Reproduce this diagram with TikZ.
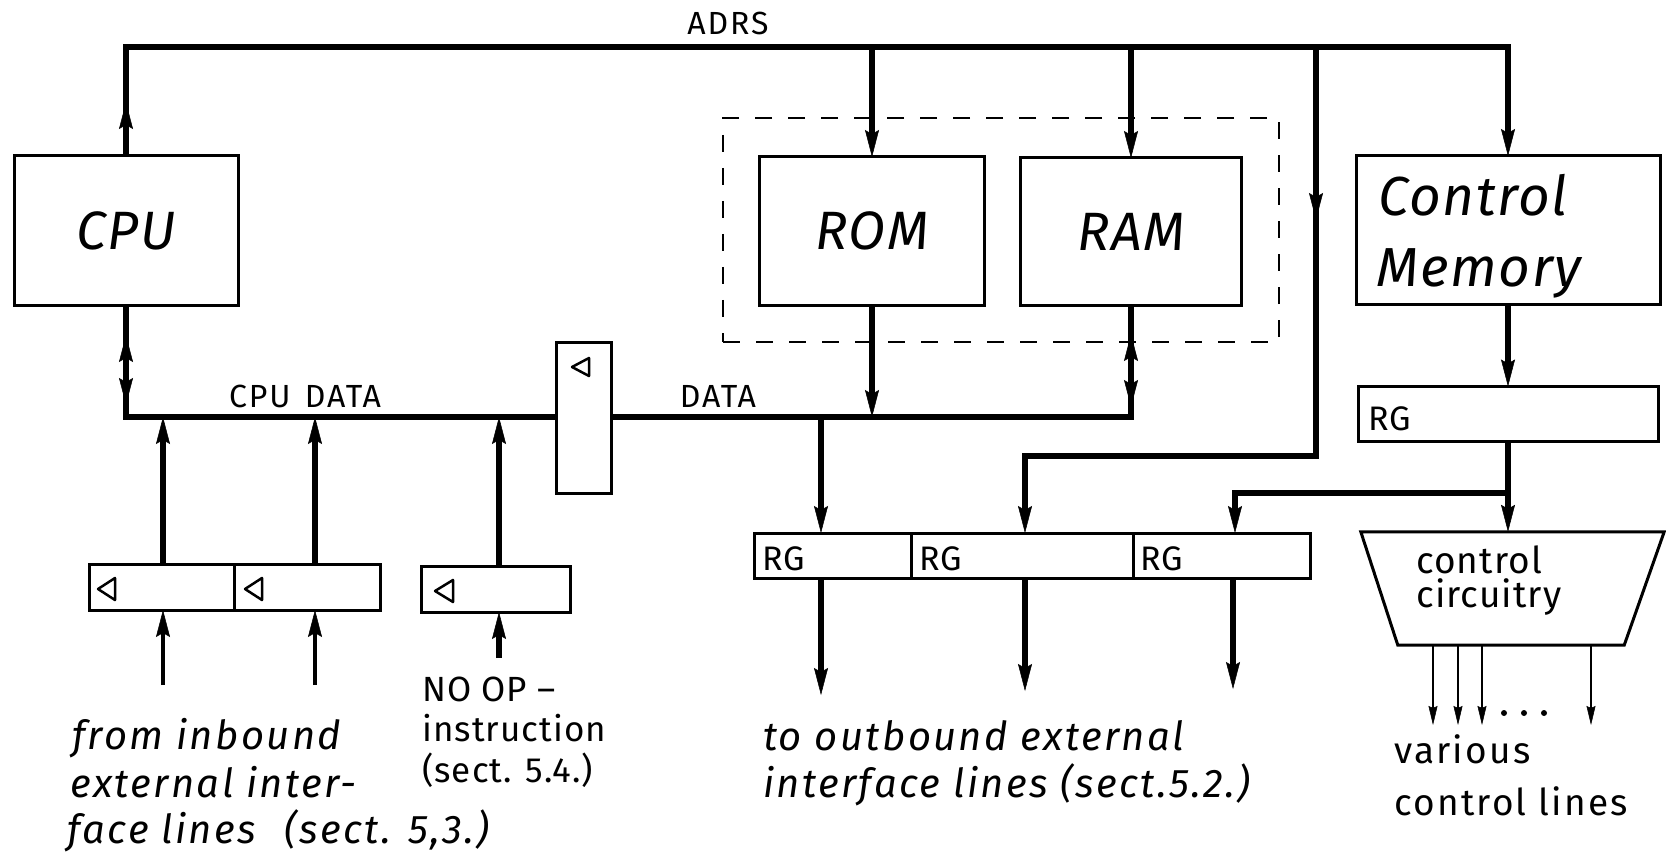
\documentclass[tikz,border=0pt]{standalone}
\usepackage{fontspec}
\setmainfont{Fira Sans}
\newfontfamily\lf{Fira Sans}[LetterSpace=3]
\newfontfamily\lfw{Fira Sans}[LetterSpace=6]
\usetikzlibrary{arrows.meta,decorations.markings,calc}
\begin{document}
\begin{tikzpicture}[x=1pt,y=-1pt,
  bus/.style={line width=5.5pt},
  thinl/.style={line width=2.2pt},
  blk/.style={draw, line width=3pt, inner sep=0pt, outer sep=0pt},
  tipb/.tip={Stealth[length=27pt,width=14pt,inset=4pt,line width=0.5pt]},
  tips/.tip={Stealth[length=19pt,width=9pt,inset=2pt,line width=0.5pt]},
  am/.style={postaction={decorate,decoration={markings,mark=at position #1 with {\arrow{tipb}}}}},
  amr/.style={postaction={decorate,decoration={markings,mark=at position #1 with {\arrowreversed{tipb}}}}},
  bigit/.style={font=\lf\fontsize{54}{60}\selectfont\itshape},
  cmit/.style={font=\lf\fontsize{55}{60}\selectfont\itshape},
  lab/.style={font=\lfw\fontsize{32}{38}\selectfont, inner sep=0pt},
  rgt/.style={font=\lf\fontsize{34}{38}\selectfont, inner sep=0pt, anchor=base west},
  cct/.style={font=\lf\fontsize{37}{42}\selectfont, inner sep=0pt, anchor=base west},
  itl/.style={font=\lfw\fontsize{40}{46}\selectfont\itshape, inner sep=0pt, anchor=base west},
  upl/.style={font=\lf\fontsize{35}{40}\selectfont, inner sep=0pt, anchor=base west},
  tri/.style={line width=2.5pt, line join=round}
]
\useasboundingbox (0,0) rectangle (1666,853);

% ---------- main blocks ----------
\node[blk, minimum width=224pt, minimum height=149pt, bigit] (cpu) at (126,230.5) {CPU};
\node[draw, dashed, dash pattern=on 17pt off 16pt, line width=2.5pt, inner sep=0pt,
      minimum width=556pt, minimum height=224pt] (mem) at (1001,230) {};
\node[blk, minimum width=225pt, minimum height=148pt, bigit] (rom) at (872,231) {ROM};
\node[blk, minimum width=221pt, minimum height=147pt, bigit] (ram) at (1131,231.5) {RAM};
\node[blk, minimum width=304pt, minimum height=148pt] (cm) at (1508,230) {};
\node[cmit, anchor=base west, inner sep=0pt] (cmt1) at (1378,216) {Control};
\node[cmit, anchor=base west, inner sep=0pt] (cmt2) at (1376,287) {Memory};

% buffer between CPU DATA and DATA
\node[blk, minimum width=55pt, minimum height=151pt] (buf) at (583.5,417.5) {};
\draw[tri] (589,358) -- (572,367) -- (589,376) -- cycle;

% registers
\node[blk, minimum width=300pt, minimum height=55pt] (rgc) at (1508,414) {};
\node[rgt] (rgct) at (1368,430) {RG};
\node[blk, minimum width=157pt, minimum height=45pt, anchor=north west] (rg1) at (754,533) {};
\node[blk, minimum width=222pt, minimum height=45pt, anchor=north west] (rg2) at (911,533) {};
\node[blk, minimum width=177pt, minimum height=45pt, anchor=north west] (rg3) at (1133,533) {};
\node[rgt] (rg1t) at (762,570) {RG};
\node[rgt] (rg2t) at (919,570) {RG};
\node[rgt] (rg3t) at (1140,570) {RG};

\node[blk, minimum width=145pt, minimum height=46pt, anchor=north west] (in1) at (89,564) {};
\node[blk, minimum width=146pt, minimum height=46pt, anchor=north west] (in2) at (234,564) {};
\node[blk, minimum width=149pt, minimum height=46pt, anchor=north west] (nop) at (421,566) {};
\draw[tri] (115,578) -- (98,589) -- (115,600) -- cycle;
\draw[tri] (262,578) -- (245,589) -- (262,600) -- cycle;
\draw[tri] (453,580) -- (435,591) -- (453,602) -- cycle;

% control circuitry (trapezoid)
\node[inner sep=0pt, minimum width=303pt, minimum height=113pt] (cc) at (1512.5,588.5) {};
\draw[line width=3pt, line join=miter] (cc.north west) -- (cc.north east)
   -- ($(cc.south east)+(-40,0)$) -- ($(cc.south west)+(37,0)$) -- cycle;
\node[cct] (cct1) at (1416,573) {control};
\node[cct] (cct2) at (1416,607) {circuitry};

% ---------- coordinates ----------
\coordinate (adrs) at (0,47);
\coordinate (bus) at (0,417);
\coordinate (br) at (1316,47);
\coordinate (brc) at (1316,456);
\coordinate (x2) at (1025,0);
\coordinate (x3) at (1235,0);
\coordinate (d1) at (821,417);
\coordinate (j) at (1508,493);
\coordinate (xi1) at (163,0);
\coordinate (xi2) at (315,0);
\coordinate (xn) at (499,0);

% ---------- ADRS bus ----------
\draw[bus, line join=miter, am=54pt, -{tipb}] (cpu.north) -- (cpu.north |- adrs) -- (cm.north |- adrs) -- (cm.north);
\draw[bus, -{tipb}] (rom.north |- adrs) -- (rom.north);
\draw[bus, -{tipb}] (ram.north |- adrs) -- (ram.north);
\draw[bus, line join=miter, am=173pt, -{tipb}] (br) -- (brc) -| (x2 |- rg2.north);
\node[lab, anchor=base] (adrst) at (728,35) {ADRS};

% ---------- CPU DATA / DATA ----------
\draw[bus, line join=miter, am=100pt, amr=30pt] (cpu.south) -- (cpu.south |- bus) -- (buf.west |- bus);
\draw[bus, line join=miter, amr=530pt, am=603pt] (buf.east |- bus) -- (ram.south |- bus) -- (ram.south);
\draw[bus, -{tipb}] (rom.south) -- (rom.south |- bus);
\node[lab, anchor=base] (cpudt) at (305,407) {CPU\hspace{0.45em}DATA};
\node[lab, anchor=base] (datat) at (718,407) {DATA};

% inbound lines
\draw[bus, -{tipb}] (xi1 |- in1.north) -- (xi1 |- bus);
\draw[bus, -{tipb}] (xi2 |- in2.north) -- (xi2 |- bus);
\draw[bus, -{tipb}] (xn |- nop.north) -- (xn |- bus);
\coordinate (b1) at (163,685);
\coordinate (b2) at (315,685);
\coordinate (b3) at (499,658);
\draw[line width=4pt, -{tipb}] (b1) -- (b1 |- in1.south);
\draw[line width=4pt, -{tipb}] (b2) -- (b2 |- in2.south);
\draw[line width=6.5pt, -{tipb}] (b3) -- (b3 |- nop.south);

% outbound
\draw[bus, -{tipb}] (d1) -- (d1 |- rg1.north);
\draw[bus, line join=miter, -{tipb}] (j) -| (x3 |- rg3.north);
\draw[bus, -{tipb}] (cm.south) -- (cm.south |- rgc.north);
\draw[bus, -{tipb}] (rgc.south) -- (cc.north -| rgc.south);
\coordinate (o1) at (821,695);
\coordinate (o2) at (1025,691);
\coordinate (o3) at (1233,689);
\draw[bus, -{tipb}] (o1 |- rg1.south) -- (o1);
\draw[bus, -{tipb}] (o2 |- rg2.south) -- (o2);
\draw[line width=6.5pt, -{tipb}] (o3 |- rg3.south) -- (o3);

% control lines
\coordinate (c1) at (1433,725);
\coordinate (c2) at (1458,725);
\coordinate (c3) at (1482,725);
\coordinate (c4) at (1591,725);
\foreach \c in {c1,c2,c3,c4}
  \draw[thinl, -{tips}] (\c |- cc.south) -- (\c);
\fill (1504,713) circle (3pt) (1524,713) circle (3pt) (1544,713) circle (3pt);

% ---------- labels ----------
\node[upl] (nop1) at (422,701) {NO OP –};
\node[upl] (nop2) at (422,741) {instruction};
\node[upl] (nop3) at (422,782) {(sect. 5.4.)};

\node[itl] (in1t) at (72,749) {from inbound};
\node[itl] (in2t) at (70,797) {external inter-};
\node[itl] (in3t) at (67,843) {face lines\hspace{0.4em} (sect. 5,3.)};

\node[itl] (out1t) at (763,750) {to outbound external};
\node[itl] (out2t) at (763,797) {interface lines (sect.5.2.)};

\node[upl, font=\lfw\fontsize{37}{42}\selectfont] (v1) at (1394,763) {various};
\node[upl, font=\lfw\fontsize{37}{42}\selectfont] (v2) at (1394,815) {control lines};
\end{tikzpicture}
\end{document}
